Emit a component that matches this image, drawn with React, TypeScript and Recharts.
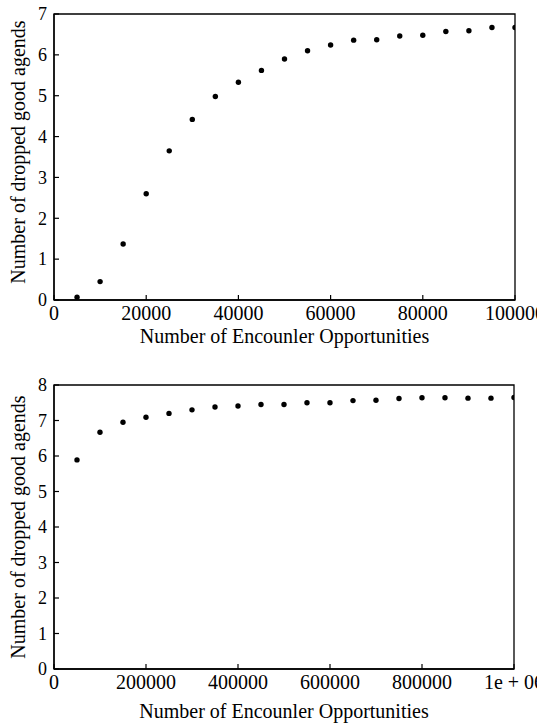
import { ScatterChart, Scatter, XAxis, YAxis, ReferenceArea } from "recharts";

const FONT = "'Liberation Serif', 'Times New Roman', serif";

// top panel: 0..100000 encounter opportunities
const topX = [
  5000, 10000, 15000, 20000, 25000, 30000, 35000, 40000, 45000, 50000,
  55000, 60000, 65000, 70000, 75000, 80000, 85000, 90000, 95000, 100000,
];
const topY = [
  0.07, 0.45, 1.37, 2.6, 3.65, 4.42, 4.98, 5.33, 5.62, 5.9,
  6.1, 6.24, 6.36, 6.37, 6.46, 6.48, 6.57, 6.59, 6.67, 6.67,
];
const topXTicks = [0, 20000, 40000, 60000, 80000, 100000];
const topYTicks = [0, 1, 2, 3, 4, 5, 6, 7];

// bottom panel: 0..1e6 encounter opportunities
const bottomX = [
  50000, 100000, 150000, 200000, 250000, 300000, 350000, 400000, 450000, 500000,
  550000, 600000, 650000, 700000, 750000, 800000, 850000, 900000, 950000, 1000000,
];
const bottomY = [
  5.89, 6.67, 6.95, 7.09, 7.2, 7.3, 7.38, 7.41, 7.45, 7.45,
  7.5, 7.5, 7.56, 7.57, 7.62, 7.64, 7.64, 7.63, 7.63, 7.65,
];
const bottomXTicks = [0, 200000, 400000, 600000, 800000, 1000000];
const bottomXLabels = ["0", "200000", "400000", "600000", "800000", "1e + 06"];
const bottomYTicks = [0, 1, 2, 3, 4, 5, 6, 7, 8];

const xTitle = "Number of Encounler Opportunities";
const yTitle = "Number of dropped good agends";

const zip = (xs: number[], ys: number[]) => xs.map((x, i) => ({ x, y: ys[i] }));

type TickProps = {
  x?: number;
  y?: number;
  payload?: { value?: number };
  labels?: string[];
  ticks?: number[];
};

function XTick({ x = 0, y = 0, payload, labels, ticks }: TickProps) {
  const v = payload?.value ?? 0;
  const idx = ticks ? ticks.indexOf(v) : -1;
  const text = labels && idx >= 0 ? labels[idx] : String(v);
  return (
    <g>
      <line x1={x} y1={y} x2={x} y2={y - 5} stroke="#000" strokeWidth={1.2} />
      <text x={x} y={y} dy={20} textAnchor="middle" fontFamily={FONT} fontSize={20} fill="#000">
        {text}
      </text>
    </g>
  );
}

function YTick({ x = 0, y = 0, payload }: TickProps) {
  return (
    <g>
      <line x1={x} y1={y} x2={x + 5} y2={y} stroke="#000" strokeWidth={1.2} />
      <text x={x - 7} y={y} dy="0.35em" textAnchor="end" fontFamily={FONT} fontSize={18} fill="#000">
        {payload?.value}
      </text>
    </g>
  );
}

function makeYTitle(shift: number) {
  return (props: any) => {
    const vb = props.viewBox ?? { x: 0, y: 0, width: 0, height: 0 };
    const cx = 25;
    const cy = vb.y + vb.height / 2 + shift;
    return (
      <text
        x={cx}
        y={cy}
        transform={`rotate(-90, ${cx}, ${cy})`}
        textAnchor="middle"
        fontFamily={FONT}
        fontSize={20}
        fill="#000"
      >
        {yTitle}
      </text>
    );
  };
}

const Dot = (props: any) => <circle cx={props.cx} cy={props.cy} r={2.7} fill="#000" />;

function Panel({
  data,
  height,
  marginTop,
  marginRight,
  xAxisHeight,
  titleOffset,
  xMax,
  yMax,
  xTicks,
  xLabels,
  yTicks,
  yShift,
}: {
  data: { x: number; y: number }[];
  height: number;
  marginTop: number;
  marginRight: number;
  xAxisHeight: number;
  titleOffset: number;
  xMax: number;
  yMax: number;
  xTicks: number[];
  xLabels?: string[];
  yTicks: number[];
  yShift: number;
}) {
  return (
    <ScatterChart width={537} height={height} margin={{ top: marginTop, right: marginRight, bottom: 0, left: 0 }}>
      <XAxis
        type="number"
        dataKey="x"
        domain={[0, xMax]}
        ticks={xTicks}
        interval={0}
        allowDataOverflow
        height={xAxisHeight}
        tickSize={0}
        tickMargin={0}
        tickLine={false}
        axisLine={{ stroke: "#000", strokeWidth: 1.3 }}
        tick={<XTick labels={xLabels} ticks={xTicks} />}
        label={{ value: xTitle, position: "insideBottom", offset: titleOffset, fontFamily: FONT, fontSize: 20, fill: "#000" }}
      />
      <YAxis
        type="number"
        dataKey="y"
        domain={[0, yMax]}
        ticks={yTicks}
        interval={0}
        allowDataOverflow
        width={54}
        tickSize={0}
        tickMargin={0}
        tickLine={false}
        axisLine={{ stroke: "#000", strokeWidth: 1.3 }}
        tick={<YTick />}
        label={makeYTitle(yShift)}
      />
      <ReferenceArea x1={0} x2={xMax} y1={0} y2={yMax} fill="none" stroke="#000" strokeWidth={1.3} />
      <Scatter data={data} shape={Dot} isAnimationActive={false} />
    </ScatterChart>
  );
}

export default function App() {
  return (
    <div style={{ position: "absolute", left: 0, top: 0, width: 537, height: 723, background: "#fff" }}>
      <Panel
        data={zip(topX, topY)}
        height={360}
        marginTop={14}
        marginRight={22}
        xAxisHeight={60}
        titleOffset={17}
        xMax={100000}
        yMax={7}
        xTicks={topXTicks}
        yTicks={topYTicks}
        yShift={-5}
      />
      <Panel
        data={zip(bottomX, bottomY)}
        height={363}
        marginTop={25}
        marginRight={23}
        xAxisHeight={54}
        titleOffset={5}
        xMax={1000000}
        yMax={8}
        xTicks={bottomXTicks}
        xLabels={bottomXLabels}
        yTicks={bottomYTicks}
        yShift={0}
      />
    </div>
  );
}
